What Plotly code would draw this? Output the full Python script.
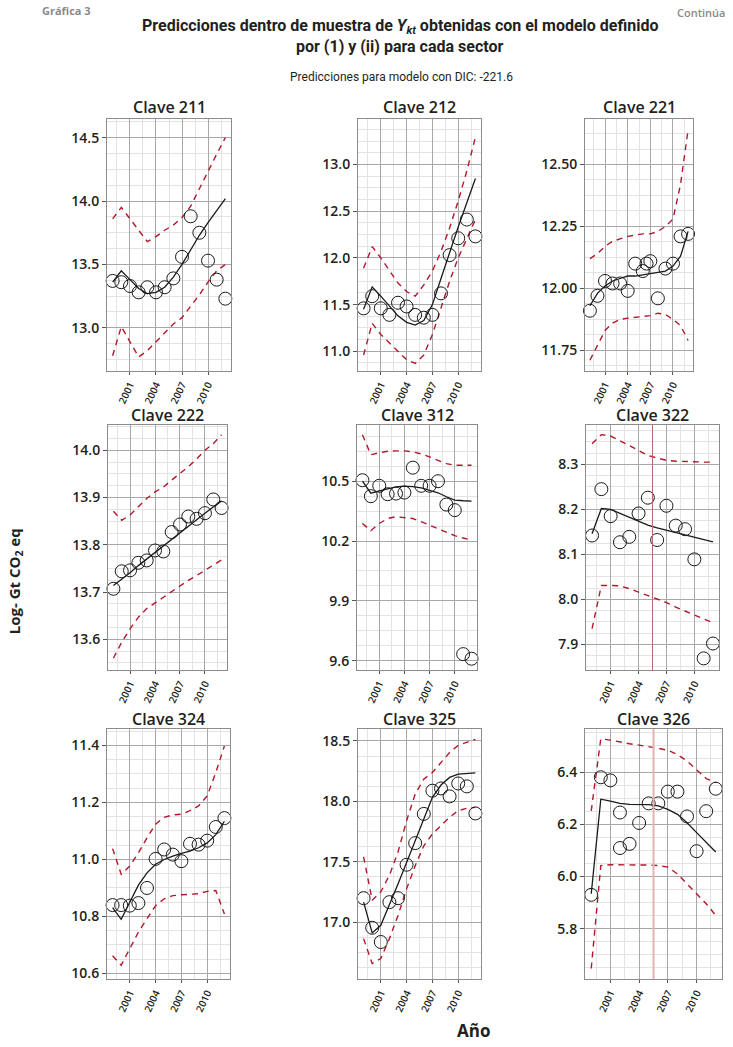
import plotly.graph_objects as go

# ---------------- data ----------------
years = list(range(1999, 2013))

obs_211 = [13.37, 13.36, 13.33, 13.28, 13.32, 13.28, 13.32, 13.39, 13.56, 13.88, 13.75, 13.53, 13.38, 13.23]
fit_211 = [13.36, 13.45, 13.38, 13.31, 13.27, 13.28, 13.32, 13.40, 13.50, 13.62, 13.73, 13.83, 13.93, 14.02]
up_211 = [13.86, 13.95, 13.86, 13.77, 13.68, 13.72, 13.77, 13.81, 13.87, 13.96, 14.10, 14.23, 14.37, 14.50]
lo_211 = [12.78, 13.01, 12.89, 12.77, 12.82, 12.89, 12.96, 13.03, 13.08, 13.17, 13.26, 13.36, 13.45, 13.50]

obs_212 = [11.46, 11.59, 11.46, 11.39, 11.52, 11.48, 11.39, 11.36, 11.39, 11.62, 12.03, 12.21, 12.41, 12.23]
fit_212 = [11.45, 11.69, 11.59, 11.48, 11.38, 11.31, 11.28, 11.33, 11.50, 11.78, 12.06, 12.33, 12.59, 12.85]
up_212 = [11.89, 12.12, 12.00, 11.86, 11.73, 11.64, 11.59, 11.71, 11.86, 12.07, 12.32, 12.61, 12.93, 13.29]
lo_212 = [10.96, 11.30, 11.18, 11.09, 11.00, 10.91, 10.87, 10.96, 11.18, 11.46, 11.75, 12.00, 12.21, 12.41]

obs_years_221 = [1999, 2000, 2001, 2002, 2003, 2004, 2005, 2006, 2006.5, 2007, 2008, 2009, 2010, 2011, 2012]
obs_221 = [11.91, 11.97, 12.03, 12.02, 12.02, 11.99, 12.10, 12.07, 12.10, 12.11, 11.96, 12.08, 12.10, 12.21, 12.22]
fit_221 = [11.93, 11.98, 12.01, 12.03, 12.04, 12.05, 12.05, 12.055, 12.06, 12.063, 12.07, 12.09, 12.13, 12.23]
up_221 = [12.12, 12.14, 12.17, 12.19, 12.20, 12.21, 12.215, 12.22, 12.22, 12.23, 12.25, 12.28, 12.42, 12.64]
lo_221 = [11.71, 11.77, 11.83, 11.86, 11.875, 11.88, 11.884, 11.888, 11.89, 11.90, 11.895, 11.875, 11.85, 11.79]

obs_222 = [13.707, 13.744, 13.746, 13.762, 13.767, 13.788, 13.786, 13.827, 13.843, 13.860, 13.855, 13.867, 13.896, 13.878]
fit_222 = [13.714, 13.727, 13.741, 13.756, 13.770, 13.785, 13.798, 13.812, 13.826, 13.840, 13.853, 13.867, 13.880, 13.893]
up_222 = [13.871, 13.852, 13.863, 13.880, 13.898, 13.912, 13.922, 13.937, 13.951, 13.965, 13.982, 14.000, 14.014, 14.033]
lo_222 = [13.560, 13.594, 13.622, 13.647, 13.665, 13.677, 13.689, 13.701, 13.714, 13.725, 13.735, 13.746, 13.756, 13.768]

obs_312 = [10.505, 10.425, 10.477, 10.435, 10.438, 10.443, 10.568, 10.477, 10.477, 10.500, 10.383, 10.355, 9.633, 9.610]
fit_312 = [10.500, 10.440, 10.452, 10.463, 10.472, 10.475, 10.473, 10.467, 10.455, 10.442, 10.422, 10.405, 10.402, 10.400]
up_312 = [10.733, 10.633, 10.643, 10.650, 10.652, 10.652, 10.647, 10.637, 10.622, 10.605, 10.588, 10.580, 10.580, 10.580]
lo_312 = [10.288, 10.252, 10.288, 10.313, 10.322, 10.318, 10.313, 10.297, 10.280, 10.260, 10.242, 10.227, 10.215, 10.205]

obs_322 = [8.142, 8.245, 8.185, 8.127, 8.139, 8.191, 8.226, 8.132, 8.208, 8.164, 8.156, 8.089, 7.869, 7.902]
fit_322 = [8.146, 8.202, 8.200, 8.191, 8.182, 8.173, 8.165, 8.159, 8.154, 8.148, 8.143, 8.138, 8.133, 8.128]
up_322 = [8.346, 8.366, 8.363, 8.353, 8.342, 8.331, 8.320, 8.314, 8.309, 8.307, 8.307, 8.306, 8.305, 8.305]
lo_322 = [7.935, 8.031, 8.031, 8.030, 8.024, 8.016, 8.009, 8.000, 7.993, 7.983, 7.974, 7.965, 7.957, 7.948]

obs_324 = [10.840, 10.840, 10.838, 10.847, 10.900, 11.002, 11.035, 11.017, 10.994, 11.055, 11.052, 11.066, 11.114, 11.145]
fit_324 = [10.831, 10.790, 10.850, 10.910, 10.953, 10.983, 11.000, 11.012, 11.021, 11.029, 11.041, 11.058, 11.087, 11.134]
up_324 = [11.038, 10.948, 10.977, 11.023, 11.076, 11.124, 11.148, 11.156, 11.159, 11.171, 11.188, 11.223, 11.305, 11.398]
lo_324 = [10.662, 10.629, 10.687, 10.745, 10.792, 10.838, 10.862, 10.873, 10.876, 10.877, 10.880, 10.888, 10.891, 10.809]

obs_325 = [17.198, 16.953, 16.835, 17.165, 17.198, 17.475, 17.654, 17.896, 18.088, 18.107, 18.041, 18.148, 18.124, 17.900]
fit_325 = [17.165, 16.910, 16.973, 17.137, 17.316, 17.494, 17.676, 17.868, 18.033, 18.135, 18.198, 18.225, 18.233, 18.235]
up_325 = [17.541, 17.181, 17.250, 17.387, 17.580, 17.840, 18.060, 18.184, 18.239, 18.321, 18.404, 18.464, 18.492, 18.514]
lo_325 = [16.863, 16.657, 16.698, 16.863, 17.055, 17.275, 17.467, 17.632, 17.730, 17.800, 17.868, 17.923, 17.942, 17.950]

obs_years_326 = [1999, 2000, 2001, 2002, 2002, 2003, 2004, 2005, 2006, 2007, 2008, 2009, 2010, 2011, 2012]
obs_326 = [5.930, 6.380, 6.368, 6.245, 6.109, 6.125, 6.205, 6.280, 6.280, 6.325, 6.325, 6.230, 6.097, 6.250, 6.336]
fit_326 = [5.934, 6.296, 6.289, 6.280, 6.276, 6.276, 6.275, 6.270, 6.257, 6.238, 6.206, 6.168, 6.130, 6.094]
up_326 = [6.251, 6.527, 6.522, 6.514, 6.508, 6.503, 6.498, 6.491, 6.483, 6.467, 6.442, 6.410, 6.375, 6.360]
lo_326 = [5.648, 6.042, 6.045, 6.045, 6.045, 6.045, 6.044, 6.042, 6.036, 6.010, 5.972, 5.934, 5.896, 5.851]

x_tick_vals = [2001, 2004, 2007, 2010]
x_tick_text = ["2001", "2004", "2007", "2010"]

# ---------------- layout helpers ----------------
W, H = 733, 1047
FONT = "Open Sans"
TXT = "#231f20"

panels = [
    # title, obs x, obs, fit, up, lo, box (x0,x1,y0,y1 px), y range, dtick, fmt
    ("Clave 211", years, obs_211, fit_211, up_211, lo_211, (107, 231, 119, 372), [12.66, 14.65], 0.5, ".1f"),
    ("Clave 212", years, obs_212, fit_212, up_212, lo_212, (358, 481, 119, 372), [10.79, 13.49], 0.5, ".1f"),
    ("Clave 221", obs_years_221, obs_221, fit_221, up_221, lo_221, (585, 693, 119, 372), [11.667, 12.685], 0.25, ".2f"),
    ("Clave 222", years, obs_222, fit_222, up_222, lo_222, (108, 227, 426, 672), [13.535, 14.054], 0.1, ".1f"),
    ("Clave 312", years, obs_312, fit_312, up_312, lo_312, (357, 477, 426, 672), [9.553, 10.783], 0.3, ".1f"),
    ("Clave 322", years, obs_322, fit_322, up_322, lo_322, (586, 719, 426, 672), [7.843, 8.388], 0.1, ".1f"),
    ("Clave 324", years, obs_324, fit_324, up_324, lo_324, (107, 230, 731, 982), [10.58, 11.458], 0.2, ".1f"),
    ("Clave 325", years, obs_325, fit_325, up_325, lo_325, (358, 481, 731, 982), [16.527, 18.60], 0.5, ".1f"),
    ("Clave 326", obs_years_326, obs_326, fit_326, up_326, lo_326, (585, 722, 731, 982), [5.607, 6.565], 0.2, ".1f"),
]

fig = go.Figure()
annotations = []
shapes = []
layout_axes = {}

for i, (title, ox, ov, fv, uv, lv, box, yr, dt, fmt) in enumerate(panels, start=1):
    xa = "x" if i == 1 else f"x{i}"
    ya = "y" if i == 1 else f"y{i}"
    x0, x1, y0, y1 = box
    for band in (lv, uv):
        fig.add_trace(go.Scatter(x=years, y=band, xaxis=xa, yaxis=ya, mode="lines",
                                 line=dict(color="#b2182b", width=1.4, dash="6px,5px"),
                                 showlegend=False, hoverinfo="skip"))
    fig.add_trace(go.Scatter(x=years, y=fv, xaxis=xa, yaxis=ya, mode="lines",
                             line=dict(color="#1a1a1a", width=1.3),
                             showlegend=False, hoverinfo="skip"))
    fig.add_trace(go.Scatter(x=ox, y=ov, xaxis=xa, yaxis=ya, mode="markers",
                             marker=dict(symbol="circle-open", size=13, color="#1a1a1a",
                                         line=dict(width=1)),
                             cliponaxis=False, showlegend=False))
    key = "" if i == 1 else str(i)
    layout_axes[f"xaxis{key}"] = dict(
        domain=[x0 / W, x1 / W], anchor=ya, range=[1998.35, 2012.65],
        tickmode="array", tickvals=x_tick_vals, ticktext=x_tick_text, tickangle=-65,
        tickfont=dict(family=FONT, size=10, color=TXT, weight=600),
        ticks="outside", ticklen=3, tickcolor="#555",
        showgrid=True, gridcolor="#a8a8a8", gridwidth=1,
        minor=dict(tickmode="array", tickvals=[1999.5, 2002.5, 2005.5, 2008.5, 2011.5],
                   showgrid=True, gridcolor="#e3e3e3", gridwidth=1, ticks=""),
        showline=True, mirror=True, linecolor="#8c8c8c", linewidth=1,
        zeroline=False, fixedrange=True)
    layout_axes[f"yaxis{key}"] = dict(
        domain=[1 - y1 / H, 1 - y0 / H], anchor=xa, range=yr,
        tick0=0, dtick=dt, tickformat=fmt,
        tickfont=dict(family=FONT, size=14, color=TXT, weight=600),
        ticks="outside", ticklen=4, tickcolor="#555",
        showgrid=True, gridcolor="#a8a8a8", gridwidth=1,
        minor=dict(tick0=0, dtick=dt / 4, showgrid=True, gridcolor="#e3e3e3",
                   gridwidth=1, ticks=""),
        showline=True, mirror=True, linecolor="#8c8c8c", linewidth=1,
        zeroline=False, fixedrange=True)
    ty = {119: 107, 426: 416.5, 731: 721.5}[y0]
    annotations.append(dict(text=title, x=(x0 + x1) / 2 / W, y=1 - ty / H,
                            xref="paper", yref="paper", showarrow=False,
                            xanchor="center", yanchor="middle",
                            font=dict(family=FONT, size=16, color=TXT, weight=600)))

# reference vertical lines in panels 322 and 326
shapes.append(dict(type="line", xref="x6", yref="y6 domain", x0=2005.5, x1=2005.5, y0=0, y1=1,
                   line=dict(color="#b86a6a", width=1)))
shapes.append(dict(type="line", xref="x9", yref="y9 domain", x0=2005.5, x1=2005.5, y0=0, y1=1,
                   line=dict(color="#e2b3b3", width=2)))

TITLE_FONT = "Liberation Sans Narrow, Roboto, sans-serif"

def ann(text, x, y, size, xanchor="center", color=TXT, weight=700, family=TITLE_FONT, angle=0):
    annotations.append(dict(text=text, x=x / W, y=1 - y / H, xref="paper", yref="paper",
                            showarrow=False, xanchor=xanchor, yanchor="middle", textangle=angle,
                            font=dict(family=family, size=size, color=color, weight=weight)))

ann("Gráfica 3", 40, 11, 11, xanchor="left", color="#8a8a8a", family=FONT)
ann("Continúa", 727, 13, 11, xanchor="right", color="#8a8a8a", family=FONT, weight=600)
ann("Predicciones dentro de muestra de <i>Y</i><sub><i>kt</i></sub> obtenidas con el modelo definido",
    400, 27, 16)
ann("por (1) y (ii) para cada sector", 400, 47, 16)
ann("Predicciones para modelo con DIC: -221.6", 401, 77, 12, weight=400)
ann("Log- Gt CO<sub>2</sub> eq", 15, 583, 15, family=FONT, angle=-90)
ann("Año", 473, 1033, 17, family=FONT)

fig.update_layout(width=W, height=H, margin=dict(l=0, r=0, t=0, b=0),
                  paper_bgcolor="white", plot_bgcolor="white",
                  annotations=annotations, shapes=shapes, **layout_axes)

fig.write_html("out.html", config={"displayModeBar": False},
               post_script="document.body.style.margin='0';")
